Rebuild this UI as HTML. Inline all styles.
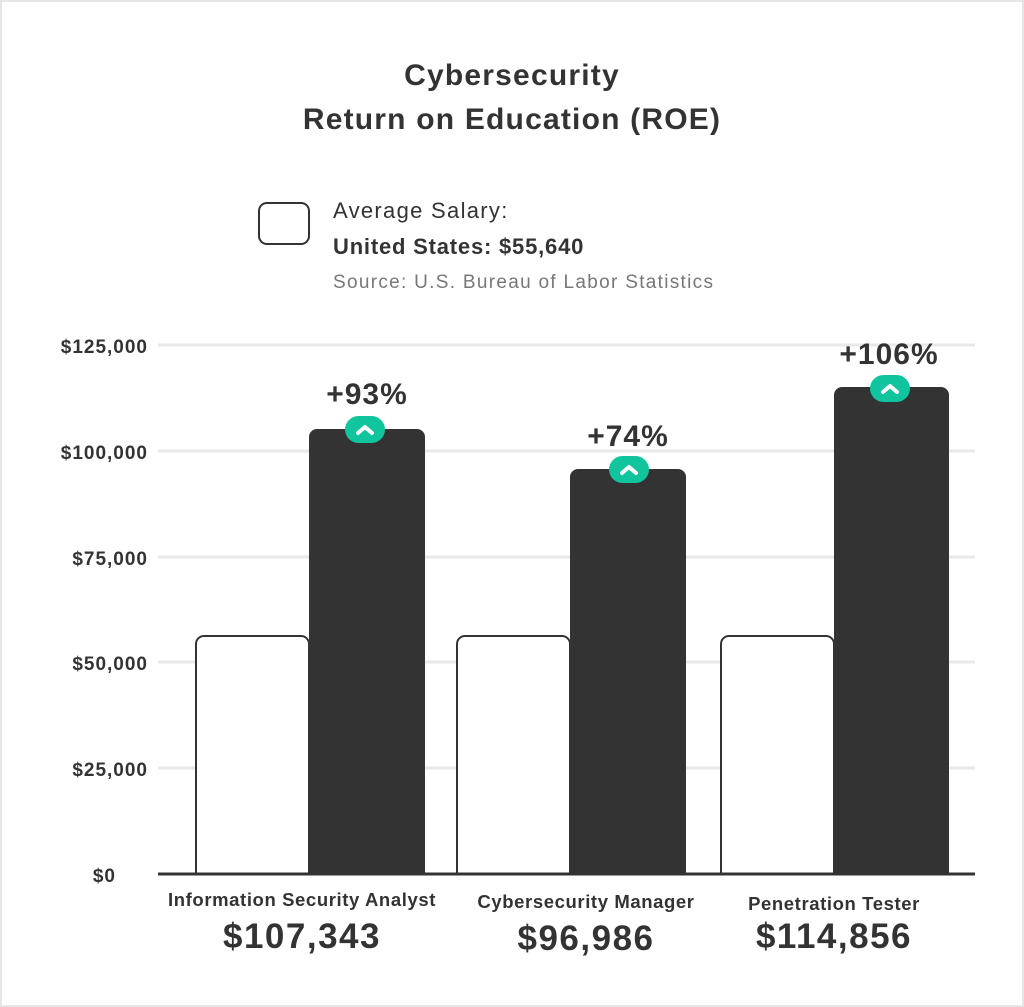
<!DOCTYPE html>
<html><head><style>
html,body{margin:0;padding:0;background:#fff}
body{width:1024px;height:1007px;position:relative;overflow:hidden;font-family:"Liberation Sans",sans-serif;color:#333}
.frame{position:absolute;left:0;top:0;width:1020px;height:1003px;border:2px solid #e6e6e6}
.t{position:absolute;white-space:nowrap}
</style></head><body>
<div class="frame"></div>
<div class="t" style="left:0;width:1024px;text-align:center;top:54px;font-size:30px;font-weight:bold;line-height:44px;letter-spacing:1.2px">Cybersecurity<br>Return on Education (ROE)</div>
<div style="position:absolute;left:258px;top:202px;border:2px solid #333;border-radius:9px;box-sizing:border-box;width:52px;height:43px"></div>
<div class="t" style="left:333px;top:198px;font-size:22px;letter-spacing:1.3px">Average Salary:</div>
<div class="t" style="left:333px;top:234px;font-size:22px;font-weight:bold;letter-spacing:0.8px">United States: $55,640</div>
<div class="t" style="left:333px;top:272px;font-size:19px;color:#777;letter-spacing:1.3px">Source: U.S. Bureau of Labor Statistics</div>
<svg width="1024" height="1007" style="position:absolute;left:0;top:0" font-family="Liberation Sans, sans-serif">
<g stroke="#e8e8e8" stroke-width="3">
<line x1="158" x2="975" y1="345" y2="345"/><line x1="158" x2="975" y1="451" y2="451"/>
<line x1="158" x2="975" y1="557" y2="557"/><line x1="158" x2="975" y1="662" y2="662"/>
<line x1="158" x2="975" y1="768" y2="768"/>
</g>
<g font-size="19" font-weight="bold" fill="#333" text-anchor="end" letter-spacing="1">
<text x="148" y="353">$125,000</text><text x="148" y="459">$100,000</text>
<text x="148" y="565">$75,000</text><text x="148" y="670">$50,000</text>
<text x="148" y="776">$25,000</text><text x="116" y="882">$0</text>
</g>
<g fill="#fff" stroke="#333" stroke-width="2">
<path d="M196 874V644a8 8 0 0 1 8-8h97a8 8 0 0 1 8 8V874Z"/>
<path d="M457 874V644a8 8 0 0 1 8-8h97a8 8 0 0 1 8 8V874Z"/>
<path d="M721 874V644a8 8 0 0 1 8-8h97a8 8 0 0 1 8 8V874Z"/>
</g>
<g fill="#333">
<path d="M309 875V437a8 8 0 0 1 8-8h100a8 8 0 0 1 8 8V875Z"/>
<path d="M570 875V477a8 8 0 0 1 8-8h100a8 8 0 0 1 8 8V875Z"/>
<path d="M834 875V395a8 8 0 0 1 8-8h99a8 8 0 0 1 8 8V875Z"/>
</g>
<line x1="158" x2="975" y1="874" y2="874" stroke="#333" stroke-width="3"/>
<g fill="#10c49e"><rect x="345" y="416" width="40" height="27" rx="13.5"/><rect x="609" y="456" width="40" height="27" rx="13.5"/><rect x="870" y="375" width="40" height="27" rx="13.5"/></g>
<g fill="none" stroke="#fff" stroke-width="4" stroke-linecap="round" stroke-linejoin="round">
<path d="M358 433l7-6 7 6"/><path d="M622 473l7-6 7 6"/><path d="M883 392l7-6 7 6"/>
</g>
<g font-size="30" font-weight="bold" fill="#333" text-anchor="middle" letter-spacing="1">
<text x="367" y="404">+93%</text><text x="628" y="446">+74%</text><text x="889" y="364">+106%</text>
</g>
<g font-size="18.5" font-weight="bold" fill="#333" text-anchor="middle" letter-spacing="0.6">
<text x="302" y="906">Information Security Analyst</text>
<text x="586" y="908">Cybersecurity Manager</text>
<text x="834" y="910">Penetration Tester</text>
</g>
<g font-size="35" font-weight="bold" fill="#333" text-anchor="middle" letter-spacing="1.5">
<text x="302" y="948">$107,343</text><text x="586" y="950">$96,986</text><text x="834" y="948">$114,856</text>
</g>
</svg>
</body></html>
